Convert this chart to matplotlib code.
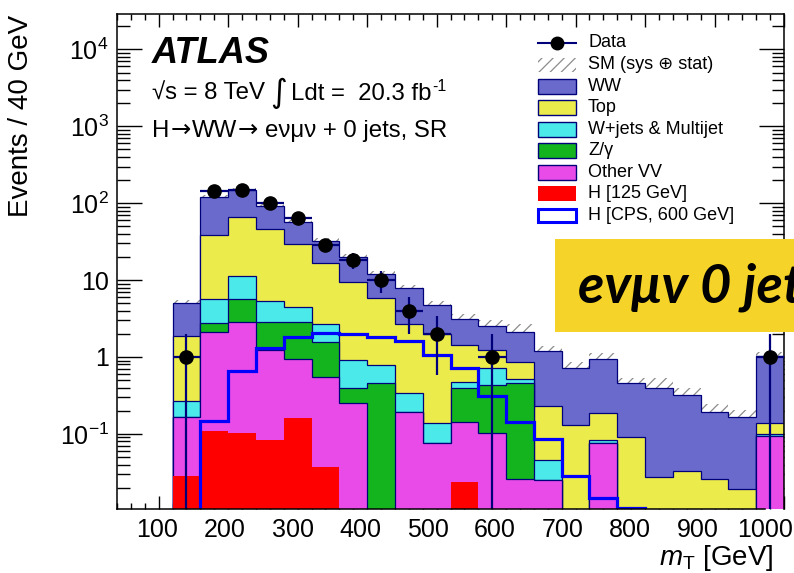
import numpy as np
import matplotlib
matplotlib.use("Agg")
import matplotlib.pyplot as plt
from matplotlib.patches import Rectangle
from matplotlib.lines import Line2D
from matplotlib.ticker import MultipleLocator, LogLocator, FuncFormatter, NullFormatter

plt.rcParams['font.family'] = ['Liberation Sans', 'DejaVu Sans']
plt.rcParams['mathtext.fontset'] = 'custom'
plt.rcParams['mathtext.rm'] = 'Liberation Sans'
plt.rcParams['mathtext.it'] = 'Liberation Sans:italic'
plt.rcParams['mathtext.bf'] = 'Liberation Sans:bold'
plt.rcParams['hatch.linewidth'] = 0.9

# ---------------- data (mT bins of 40 GeV) ----------------
bin_edges = np.arange(120, 1001, 40)
data     = [1, 146, 147, 100, 65, 29, 18, 10, 4, 2, 0, 1, 0, 0, 0, 0, 0, 0, 0, 0, 0, 1]
h125     = [0.028, 0.109, 0.102, 0.083, 0.16, 0.0375, 0, 0, 0, 0, 0.024, 0, 0, 0, 0, 0, 0, 0, 0, 0, 0, 0]
other_vv = [0.139, 1.99, 2.78, 1.15, 0.78, 0.51, 0.25, 0, 0.19, 0.0755, 0.12, 0.102, 0.026, 0.025, 0, 0.0755, 0, 0, 0, 0, 0, 0.094]
zgamma   = [0, 0.64, 2.72, 1.65, 1.94, 1.0, 0.14, 0.455, 0, 0, 0.256, 0.33, 0.434, 0, 0, 0, 0, 0, 0, 0, 0, 0]
wjets    = [0.103, 2.86, 5.7, 2.52, 1.62, 1.13, 0.53, 0.335, 0.155, 0.0615, 0.077, 0.28, 0.05, 0.021, 0, 0.0075, 0.011, 0, 0, 0, 0, 0.006]
top      = [1.60, 33.0, 54.3, 40.3, 24.7, 13.9, 8.58, 5.01, 2.35, 1.83, 0.95, 0.52, 0.36, 0.182, 0.13, 0.102, 0.081, 0.0278, 0.0332, 0.0257, 0.019, 0.04]
ww       = [3.21, 82.9, 82.9, 46.3, 28.3, 15.9, 10.4, 6.2, 5.11, 2.78, 1.69, 1.32, 1.25, 0.97, 0.58, 0.755, 0.363, 0.362, 0.287, 0.168, 0.145, 0.89]
h600     = [0, 0.149, 0.66, 1.32, 1.84, 2.03, 1.97, 1.8, 1.63, 1.06, 0.73, 0.31, 0.144, 0.085, 0.028, 0.0145, 0.011, 0, 0, 0, 0, 0]
sm_rel_err = [0.07, 0.06, 0.06, 0.07, 0.07, 0.08, 0.1, 0.1, 0.12, 0.13, 0.18, 0.2, 0.25, 0.16, 0.22, 0.2, 0.16, 0.35, 0.22, 0.27, 0.23, 0.12]
x_ticks = [100, 200, 300, 400, 500, 600, 700, 800, 900, 1000]

names  = ["H [125 GeV]", "Other VV", "Z/\u03b3", "W+jets & Multijet", "Top", "WW"]
colors = ["#ff0000", "#e84be8", "#14b41e", "#4be9e9", "#ebeb4b", "#6a6acd"]
navy = "#00007a"

W, H = 794, 573
def fx(px): return px / W
def fy(py): return 1 - py / H

fig = plt.figure(figsize=(W / 100, H / 100), dpi=100)
ax = fig.add_axes([fx(117), fy(509), (784 - 117) / W, (509 - 14) / H])
ax.set_yscale('log')
ax.set_xlim(40, 1000)
ax.set_ylim(10 ** ((357 - 509) / 76.9), 10 ** ((357 - 14) / 76.9))

floor = 1e-6
layers = np.array([h125, other_vv, zgamma, wjets, top, ww], dtype=float)
cum = np.cumsum(layers, axis=0)
total = cum[-1]
err = np.array(sm_rel_err)

# uncertainty band (only visible above stack)
ax.stairs(total * (1 + err), bin_edges, baseline=total * (1 - err), fill=True,
          facecolor='none', edgecolor='#8c8c8c', hatch='///', linewidth=0, zorder=1.5)

for i in reversed(range(len(layers))):
    vals = np.where(cum[i] > 0, cum[i], floor)
    ec = 'none' if i == 0 else navy
    ax.stairs(vals, bin_edges, baseline=floor, fill=True, facecolor=colors[i],
              edgecolor=ec, linewidth=0.9, zorder=2)

h6 = np.array(h600, dtype=float)
ax.stairs(np.where(h6 > 0, h6, floor), bin_edges, baseline=None, color='#0000ff',
          linewidth=2.3, zorder=3)

centers = 0.5 * (bin_edges[:-1] + bin_edges[1:])
d = np.array(data, dtype=float)
m = d > 0
yerr_up = np.sqrt(d[m])
yerr_lo = np.minimum(np.sqrt(d[m]), d[m] - 1e-6)
ax.errorbar(centers[m], d[m], yerr=[yerr_lo, yerr_up], xerr=20, fmt='o', ms=9.5,
            mfc='black', mec='black', ecolor=navy, elinewidth=1.6, capsize=0, zorder=5)

# ticks
ax.xaxis.set_major_locator(MultipleLocator(100))
ax.xaxis.set_minor_locator(MultipleLocator(20))
ax.tick_params(axis='x', which='both', direction='in', top=True, bottom=True,
               labelbottom=False, width=1.0)
ax.tick_params(axis='x', which='major', length=9.4)
ax.tick_params(axis='x', which='minor', length=4.5)
ax.yaxis.set_major_locator(LogLocator(base=10, numticks=20))
ax.yaxis.set_minor_locator(LogLocator(base=10, subs=np.arange(2, 10), numticks=20))
ax.yaxis.set_minor_formatter(NullFormatter())

def yfmt(v, pos):
    e = int(round(np.log10(v)))
    if e == 0:
        return '1'
    if e == 1:
        return '10'
    return r'$10^{%d}$' % e
ax.yaxis.set_major_formatter(FuncFormatter(yfmt))
ax.tick_params(axis='y', which='both', direction='in', left=True, right=True, width=1.0)
ax.tick_params(axis='y', which='major', length=18, labelsize=18, pad=6)
ax.tick_params(axis='y', which='minor', length=9)
for s in ax.spines.values():
    s.set_linewidth(1.1)
ax.spines['bottom'].set_visible(False)

# label axis (drawn slightly narrower, as in the reference)
lab = fig.add_axes([fx(117), fy(509), (765 - 117) / W, 0.0001])
lab.set_xlim(40, 1000)
lab.set_xticks(x_ticks)
lab.set_xticklabels([str(t) for t in x_ticks])
lab.set_yticks([])
lab.tick_params(axis='x', length=0, labelsize=18, pad=6.5)
for s in ['top', 'left', 'right']:
    lab.spines[s].set_visible(False)
lab.spines['bottom'].set_linewidth(1.1)
lab.patch.set_visible(False)

fig.text(fx(773), fy(558), r'$m_{\mathrm{T}}$ [GeV]', ha='right', va='center', fontsize=20)
fig.text(fx(21), fy(15), 'Events / 40 GeV', rotation=90, ha='center', va='top', fontsize=20)

fig.text(fx(152), fy(63), 'ATLAS', fontsize=26, fontweight='bold', fontstyle='italic', va='baseline')

renderer = fig.canvas.get_renderer()
def draw_pieces(x_px, y_px, pieces):
    x = x_px
    for txt, dy, gap, kw in pieces:
        t = fig.text(fx(x + gap), fy(y_px + dy), txt, va='baseline', **kw)
        bb = t.get_window_extent(renderer)
        x = x + gap + bb.width

base = dict(fontsize=17.3)
draw_pieces(152, 100, [
    ('√s = 8 TeV', 0, 0, base),
    ('\u222b', 2, 5, dict(fontsize=23, family=['DejaVu Sans'])),
    ('Ldt =  20.3 fb', 0, 4, base),
    ('-1', -9, 1, dict(fontsize=11.5)),
])
arrow = dict(fontsize=17.5, family=['DejaVu Sans'])
draw_pieces(152, 137, [
    ('H', 0, 0, base),
    ('\u2192', 0, 1, arrow),
    ('WW', 0, 1, base),
    ('\u2192', 0, 1, arrow),
    ('e\u03bd\u03bc\u03bd + 0 jets, SR', 0, 7, base),
])

# legend
lx0, lx1, tx = 538, 576, 588
rows = [42.7, 64.5, 86.2, 107.7, 129.2, 150.7, 172.2, 193.7, 215.2]
fig.add_artist(Line2D([fx(lx0), fx(lx1)], [fy(rows[0])] * 2, color=navy, lw=1.5, transform=fig.transFigure))
fig.add_artist(Line2D([fx(557)], [fy(rows[0])], marker='o', ms=9, color='black', transform=fig.transFigure))
fig.text(fx(tx), fy(rows[0]), 'Data', fontsize=13, va='center')
fig.add_artist(Rectangle((fx(lx0), fy(rows[1] + 7)), (lx1 - lx0) / W, 14 / H, transform=fig.transFigure,
                         facecolor='none', edgecolor='#8c8c8c', hatch='///', linewidth=0))
fig.text(fx(tx), fy(rows[1]), 'SM (sys \u2295 stat)', fontsize=13, va='center')
leg_order = [5, 4, 3, 2, 1, 0]
for r, i in zip(rows[2:8], leg_order):
    ec = 'none' if i == 0 else navy
    fig.add_artist(Rectangle((fx(lx0), fy(r + 7.5)), (lx1 - lx0) / W, 15 / H, transform=fig.transFigure,
                             facecolor=colors[i], edgecolor=ec, linewidth=1.0))
    fig.text(fx(tx), fy(r), names[i], fontsize=13, va='center')
fig.add_artist(Rectangle((fx(lx0), fy(rows[8] + 6.5)), (lx1 - lx0) / W, 13 / H, transform=fig.transFigure,
                         facecolor='white', edgecolor='#0000ff', linewidth=2.2))
fig.text(fx(tx), fy(rows[8]), 'H [CPS, 600 GeV]', fontsize=13, va='center')

# overlay label box
fig.add_artist(Rectangle((fx(555), fy(332)), (W - 555 + 5) / W, (332 - 239) / H, transform=fig.transFigure,
                         facecolor='#f5d328', edgecolor='none', zorder=20))
fig.text(fx(578), fy(302), 'ev\u03bcv 0 jets', fontsize=39, family=['Lato', 'DejaVu Sans'],
         fontweight='bold', fontstyle='italic', va='baseline', zorder=21)

fig.savefig('out.png', dpi=100)
